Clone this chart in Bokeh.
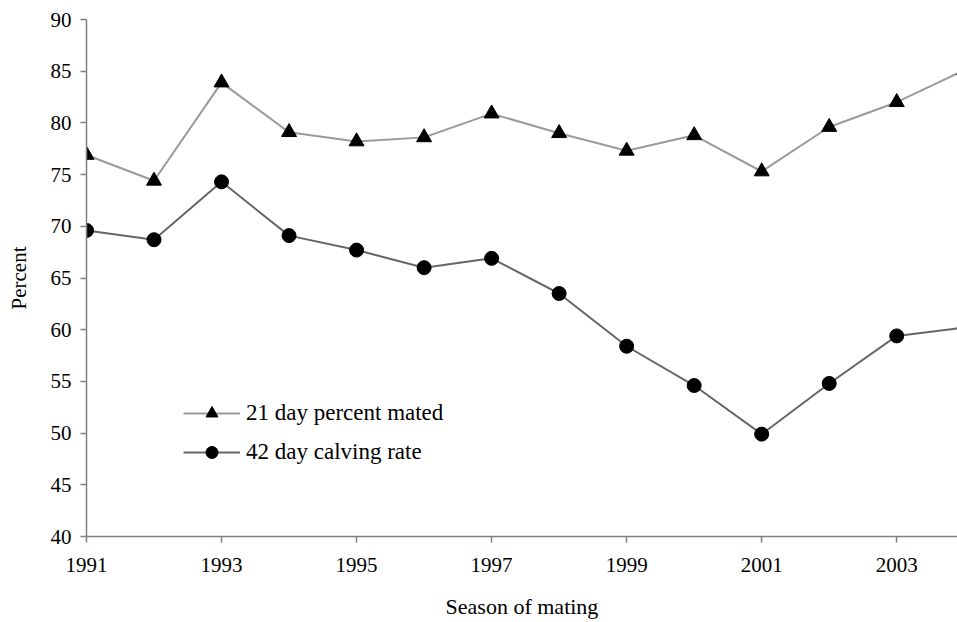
from bokeh.plotting import figure
from bokeh.models import FixedTicker, Range1d
from bokeh.embed import file_html
from bokeh.resources import INLINE

years = [1991, 1992, 1993, 1994, 1995, 1996, 1997, 1998, 1999, 2000, 2001, 2002, 2003, 2004]
mated_21 = [76.9, 74.4, 83.9, 79.1, 78.2, 78.6, 80.9, 79.0, 77.3, 78.8, 75.3, 79.6, 82.0, 85.1]
calving_42 = [69.6, 68.7, 74.3, 69.1, 67.7, 66.0, 66.9, 63.5, 58.4, 54.6, 49.9, 54.8, 59.4, 60.2]
x_ticks = [1991, 1993, 1995, 1997, 1999, 2001, 2003]
y_ticks = [40, 45, 50, 55, 60, 65, 70, 75, 80, 85, 90]

FONT = "Liberation Serif"

p = figure(width=957, height=622, output_backend="svg", toolbar_location=None,
           x_range=Range1d(1991, 2003.9), y_range=Range1d(40, 90),
           min_border_left=86, min_border_right=0, min_border_top=19, min_border_bottom=86)
p.outline_line_color = None
p.grid.grid_line_color = None

p.line(years, mated_21, line_color="#9a9a9a", line_width=2, legend_label="21 day percent mated")
p.scatter(years, mated_21, marker="triangle", size=15, fill_color="black", line_color="black",
          legend_label="21 day percent mated")
p.line(years, calving_42, line_color="#666666", line_width=2, legend_label="42 day calving rate")
p.scatter(years, calving_42, marker="circle", size=14, fill_color="black", line_color="black",
          legend_label="42 day calving rate")

for ax in (p.xaxis[0], p.yaxis[0]):
    ax.axis_line_color = "#808080"
    ax.axis_line_width = 1.5
    ax.major_tick_line_color = "#808080"
    ax.major_tick_line_width = 1.5
    ax.major_tick_out = 6
    ax.major_tick_in = 0
    ax.minor_tick_line_color = None
    ax.major_label_text_font = FONT
    ax.major_label_text_font_size = "21px"
    ax.major_label_text_color = "black"
    ax.axis_label_text_font = FONT
    ax.axis_label_text_font_size = "21px"
    ax.axis_label_text_font_style = "normal"
    ax.axis_label_text_color = "black"

p.xaxis.axis_label_text_font_size = "22px"
p.xaxis.ticker = FixedTicker(ticks=x_ticks)
p.yaxis.ticker = FixedTicker(ticks=y_ticks)
p.xaxis.axis_label = "Season of mating"
p.yaxis.axis_label = "Percent"
p.xaxis.major_label_standoff = 15
p.yaxis.major_label_standoff = 9
p.xaxis.axis_label_standoff = 19
p.yaxis.axis_label_standoff = 17

lg = p.legend[0]
lg.location = (97, 69)
lg.border_line_color = None
lg.background_fill_alpha = 0
lg.padding = 0
lg.margin = 0
lg.spacing = 9
lg.glyph_width = 57
lg.glyph_height = 30
lg.label_height = 30
lg.label_standoff = 6
lg.label_text_font = FONT
lg.label_text_font_size = "23px"
lg.label_text_color = "black"

open("out.html", "w").write(file_html(p, INLINE))
